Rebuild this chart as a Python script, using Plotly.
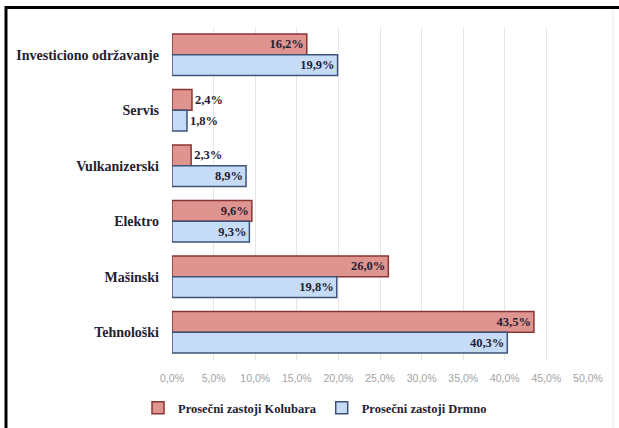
import plotly.graph_objects as go

categories = ["Investiciono održavanje", "Servis", "Vulkanizerski", "Elektro", "Mašinski", "Tehnološki"]
kolubara = [16.2, 2.4, 2.3, 9.6, 26.0, 43.5]
drmno = [19.9, 1.8, 8.9, 9.3, 19.8, 40.3]
series_names = ["Prosečni zastoji Kolubara", "Prosečni zastoji Drmno"]
tick_vals = [0, 5, 10, 15, 20, 25, 30, 35, 40, 45, 50]
tick_text = ["0,0%", "5,0%", "10,0%", "15,0%", "20,0%", "25,0%", "30,0%", "35,0%", "40,0%", "45,0%", "50,0%"]


def fmt(v):
    return f"{v:.1f}%".replace(".", ",")


def pos(vals):
    return ["inside" if v >= 5 else "outside" for v in vals]


label_font = dict(family="Liberation Serif", size=12.5, color="#1f2233", weight="bold")

fig = go.Figure()
fig.add_trace(go.Bar(
    y=categories, x=kolubara, orientation="h", name=series_names[0],
    marker=dict(color="#df948f", line=dict(color="#8a3535", width=1.5)),
    text=[fmt(v) for v in kolubara], textposition=pos(kolubara), insidetextanchor="end",
    constraintext="none", textangle=0, textfont=label_font, cliponaxis=False,
))
fig.add_trace(go.Bar(
    y=categories, x=drmno, orientation="h", name=series_names[1],
    marker=dict(color="#c6dbf6", line=dict(color="#3d5478", width=1.5)),
    text=[fmt(v) for v in drmno], textposition=pos(drmno), insidetextanchor="end",
    constraintext="none", textangle=0, textfont=label_font, cliponaxis=False,
))

fig.update_layout(
    width=619, height=428,
    margin=dict(l=172, r=31, t=27, b=68, autoexpand=False),
    paper_bgcolor="white", plot_bgcolor="white",
    barmode="group", bargap=0.25, bargroupgap=0.0,
    showlegend=True,
    legend=dict(orientation="h", x=(138 - 172) / 416, xanchor="left",
                y=(360 - 408) / 333, yanchor="middle",
                font=dict(family="Liberation Serif", size=12.5, color="#1f2233", weight="bold"),
                itemwidth=30, traceorder="normal", tracegroupgap=0),
    xaxis=dict(range=[0, 50], tickvals=tick_vals, ticktext=tick_text,
               showgrid=True, gridcolor="#e6e6e6", gridwidth=1,
               zeroline=False, showline=False, ticklabelstandoff=10,
               tickfont=dict(family="Liberation Sans", size=10.5, color="#a3a3a3")),
    yaxis=dict(autorange="reversed", showgrid=False, zeroline=False,
               ticks="", ticklabelstandoff=12,
               tickfont=dict(family="Liberation Serif", size=14, color="#1f2233", weight="bold")),
    shapes=[
        dict(type="line", xref="paper", yref="paper",
             x0=(5 - 172) / 416, x1=(619 - 172) / 416,
             y0=(360 - 7.5) / 333, y1=(360 - 7.5) / 333,
             line=dict(color="black", width=3)),
        dict(type="line", xref="paper", yref="paper",
             x0=(6 - 172) / 416, x1=(6 - 172) / 416,
             y0=(360 - 6) / 333, y1=(360 - 430) / 333,
             line=dict(color="black", width=3)),
        dict(type="line", xref="paper", yref="paper",
             x0=(613 - 172) / 416, x1=(613 - 172) / 416,
             y0=(360 - 9) / 333, y1=(360 - 430) / 333,
             line=dict(color="#e8e8e8", width=1)),
    ],
)

fig.write_html("out.html")
